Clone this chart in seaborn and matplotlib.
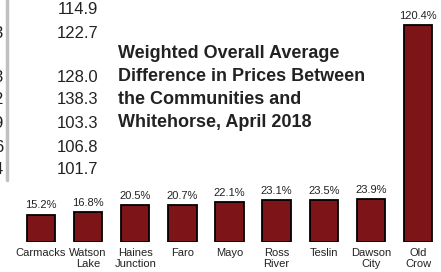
import matplotlib
matplotlib.use("Agg")
import matplotlib.pyplot as plt
import seaborn as sns
import pandas as pd

communities = ["Carmacks", "Watson\nLake", "Haines\nJunction", "Faro", "Mayo",
               "Ross\nRiver", "Teslin", "Dawson\nCity", "Old\nCrow"]
pct_diff = [15.2, 16.8, 20.5, 20.7, 22.1, 23.1, 23.5, 23.9, 120.4]
side_values = ["114.9", "122.7", "128.0", "138.3", "103.3", "106.8", "101.7"]
side_y = [10, 33, 77, 100, 124, 147, 170]
clipped_digits = ["3", "3", "2", "9", "6", "4"]
clipped_y = [33, 77, 100, 124, 147, 170]
title_lines = ["Weighted Overall Average", "Difference in Prices Between",
               "the Communities and", "Whitehorse, April 2018"]

sns.set_style("white")
plt.rcParams['font.family'] = ['Liberation Sans', 'DejaVu Sans']

W, H = 441, 272
fig = plt.figure(figsize=(W / 100, H / 100), dpi=100)
ax = fig.add_axes([17.5 / W, 30 / H, 424 / W, 242 / H])

df = pd.DataFrame({"community": communities, "pct": pct_diff})
sns.barplot(data=df, x="community", y="pct", color="#7c1418", saturation=1,
            edgecolor="black", linewidth=1.3, width=0.6, ax=ax)
ax.set_xlim(-0.5, 8.5)
ax.set_ylim(0, 134.4)
for c in ax.containers:
    ax.bar_label(c, labels=[f"{v:.1f}%" for v in pct_diff], padding=3,
                 fontsize=8, color="#222222")
for s in ax.spines.values():
    s.set_visible(False)
ax.set_yticks([])
ax.set_xlabel("")
ax.set_ylabel("")
ax.tick_params(axis="x", length=0, pad=4, labelsize=8, colors="#222222")
ax.patch.set_alpha(0)

def fx(px):
    return px / W

def fy(py):
    return 1 - py / H

# gray vertical rule at the far left
fig.add_artist(plt.Line2D([fx(6.5), fx(6.5)], [fy(0), fy(180)],
                          transform=fig.transFigure, color="#c0c0c0", lw=2.5))
for d, y in zip(clipped_digits, clipped_y):
    fig.text(fx(3), fy(y), d, ha="right", va="center", fontsize=12,
             color="#222222")
for v, y in zip(side_values, side_y):
    fig.text(fx(98), fy(y), v, ha="right", va="center", fontsize=12,
             color="#222222")
for i, line in enumerate(title_lines):
    fig.text(fx(118), fy(53 + 23.3 * i), line, ha="left", va="center",
             fontsize=13, fontweight="bold", color="#222222")

fig.savefig("out.png", dpi=100)
